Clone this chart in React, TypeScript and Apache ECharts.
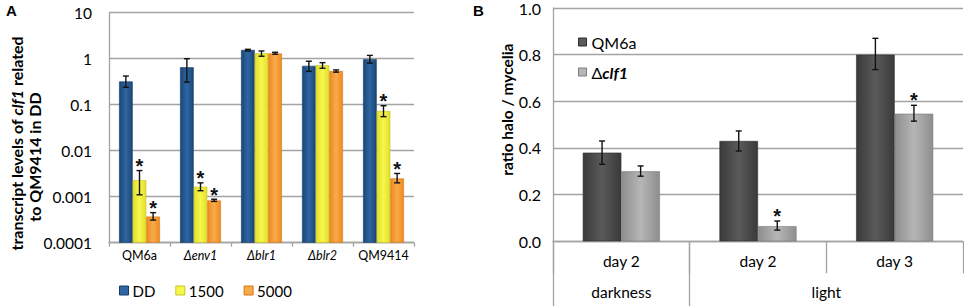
import React, { useEffect, useRef } from 'react';
import * as echarts from 'echarts';

// ---------- Panel A data ----------
const categoriesA = ['QM6a', 'Δenv1', 'Δblr1', 'Δblr2', 'QM9414'];
const seriesNamesA = ['DD', '1500', '5000'];
const valuesDD = [0.32, 0.65, 1.55, 0.7, 0.98];
const lowDD = [0.24, 0.31, 1.47, 0.53, 0.8];
const highDD = [0.42, 1.0, 1.6, 0.88, 1.18];
const values1500 = [0.0023, 0.00165, 1.31, 0.72, 0.073];
const low1500 = [0.0011, 0.00135, 1.13, 0.62, 0.055];
const high1500 = [0.0037, 0.002, 1.47, 0.82, 0.095];
const values5000 = [0.00037, 0.00083, 1.3, 0.54, 0.0025];
const low5000 = [0.00031, 0.00079, 1.25, 0.51, 0.002];
const high5000 = [0.00045, 0.00088, 1.38, 0.57, 0.0032];
const sig1500 = [1, 1, 0, 0, 1];
const sig5000 = [1, 1, 0, 0, 1];
const tickLabelsA = ['0.0001', '0.001', '0.01', '0.1', '1', '10'];

// ---------- Panel B data ----------
const categoriesB = ['day 2', 'day 2', 'day 3'];
const groupsB = ['darkness', 'light'];
const groupSpansB = [[0, 1], [1, 3]];
const seriesNamesB = ['QM6a', 'Δclf1'];
const valuesQM6a = [0.38, 0.43, 0.8];
const lowQM6a = [0.33, 0.387, 0.736];
const highQM6a = [0.43, 0.473, 0.87];
const valuesClf1 = [0.3, 0.065, 0.547];
const lowClf1 = [0.279, 0.048, 0.515];
const highClf1 = [0.323, 0.087, 0.583];
const sigClf1 = [0, 1, 1];

const FONT = 'Lato';
const GRID_COLOR = '#a3a3a3';
const GAP_A = 0.33;
const GAP_B = 0.436;

function hGrad(edge: string, mid: string) {
  return {
    type: 'linear', x: 0, y: 0, x2: 1, y2: 0,
    colorStops: [
      { offset: 0, color: edge },
      { offset: 0.5, color: mid },
      { offset: 1, color: edge },
    ],
  };
}

function errorSeries(
  name: string, xi: number, yi: number, lows: number[], highs: number[],
  sigs: number[] | null, pos: number, n: number, gap: number, starOffset: number
) {
  return {
    type: 'custom',
    name,
    xAxisIndex: xi,
    yAxisIndex: yi,
    z: 10,
    silent: true,
    clip: false,
    data: lows.map((lo, i) => [i, lo, highs[i], sigs ? sigs[i] : 0]),
    encode: { x: 0, y: [1, 2] },
    renderItem: (_params: any, api: any) => {
      const idx = api.value(0);
      const lo = api.value(1);
      const hi = api.value(2);
      const sig = api.value(3);
      const band = api.size([1, 0])[0];
      const barW = (band * (1 - gap)) / n;
      const top = api.coord([idx, hi]);
      const x = top[0] + (pos - (n - 1) / 2) * barW;
      const yHi = top[1];
      const yLo = api.coord([idx, lo])[1];
      const cap = 3;
      const st = { stroke: '#111', lineWidth: 1.4 };
      const children: any[] = [
        { type: 'line', shape: { x1: x, y1: yHi, x2: x, y2: yLo }, style: st },
        { type: 'line', shape: { x1: x - cap, y1: yHi, x2: x + cap, y2: yHi }, style: st },
        { type: 'line', shape: { x1: x - cap, y1: yLo, x2: x + cap, y2: yLo }, style: st },
      ];
      if (sig) {
        children.push({
          type: 'text',
          style: {
            text: '*', x, y: yHi - starOffset, align: 'center', verticalAlign: 'middle',
            fontSize: 20, fontWeight: 'bold', fontFamily: 'Liberation Sans', fill: '#111',
          },
        });
      }
      return { type: 'group', children };
    },
  };
}

function buildOption() {
  const barColorsA = [
    { edge: '#1a4677', mid: '#2f66a3', border: '#163c66' },
    { edge: '#e2df2c', mid: '#f6f64c', border: '#c9c522' },
    { edge: '#ee8a1e', mid: '#f9ab4a', border: '#d6771a' },
  ];
  const barColorsB = [
    { edge: '#3a3a3a', mid: '#5a5a5a', border: '#2e2e2e' },
    { edge: '#8e8e8e', mid: '#b6b6b6', border: '#7a7a7a' },
  ];
  const valsA = [valuesDD, values1500, values5000];
  const lowsA = [lowDD, low1500, low5000];
  const highsA = [highDD, high1500, high5000];
  const sigsA = [null, sig1500, sig5000];
  const valsB = [valuesQM6a, valuesClf1];
  const lowsB = [lowQM6a, lowClf1];
  const highsB = [highQM6a, highClf1];
  const sigsB = [null, sigClf1];

  const series: any[] = [];
  seriesNamesA.forEach((name, i) => {
    series.push({
      type: 'bar', name, xAxisIndex: 0, yAxisIndex: 0,
      data: valsA[i],
      barGap: '0%', barCategoryGap: '33%',
      itemStyle: { color: hGrad(barColorsA[i].edge, barColorsA[i].mid), borderColor: barColorsA[i].border, borderWidth: 0.6 },
    });
  });
  seriesNamesA.forEach((name, i) => {
    series.push(errorSeries(name + ' error', 0, 0, lowsA[i], highsA[i], sigsA[i], i, 3, GAP_A, 4.5));
  });
  seriesNamesB.forEach((name, i) => {
    series.push({
      type: 'bar', name, xAxisIndex: 1, yAxisIndex: 1,
      data: valsB[i],
      barGap: '0%', barCategoryGap: '43.6%',
      itemStyle: { color: hGrad(barColorsB[i].edge, barColorsB[i].mid), borderColor: barColorsB[i].border, borderWidth: 0.6 },
    });
  });
  seriesNamesB.forEach((name, i) => {
    series.push(errorSeries(name + ' error', 1, 1, lowsB[i], highsB[i], sigsB[i], i, 2, GAP_B, 5));
  });

  const axisLineStyle = { color: GRID_COLOR, width: 1.3 };
  const groupMids = groupSpansB.map((s) => (s[0] + s[1]) / 2);
  const titleRich = {
    b: { fontFamily: FONT, fontSize: 16, fontWeight: 'bold', fill: '#000' },
    bi: { fontFamily: FONT, fontSize: 16, fontWeight: 'bold', fontStyle: 'italic', fill: '#000' },
  };

  return {
    animation: false,
    color: [barColorsA[0].mid, barColorsA[1].mid, barColorsA[2].mid],
    textStyle: { fontFamily: FONT },
    graphic: [
      { type: 'text', left: 6, top: 3, style: { text: 'A', fontFamily: 'Liberation Sans', fontWeight: 'bold', fontSize: 15, fill: '#000' } },
      { type: 'text', left: 473, top: 3, style: { text: 'B', fontFamily: 'Liberation Sans', fontWeight: 'bold', fontSize: 15, fill: '#000' } },
      {
        type: 'text', x: 16, y: 143.5, rotation: Math.PI / 2,
        style: {
          text: '{b|transcript levels of }{bi|clf1}{b| related}', align: 'center', verticalAlign: 'middle',
          fontFamily: FONT, fontSize: 16, fontWeight: 'bold', fill: '#000', rich: titleRich,
        },
      },
      {
        type: 'text', x: 34.5, y: 157, rotation: Math.PI / 2,
        style: {
          text: 'to QM9414 in DD', align: 'center', verticalAlign: 'middle',
          fontFamily: FONT, fontSize: 16, fontWeight: 'bold', fill: '#000',
        },
      },
    ],
    grid: [
      { left: 109, right: 550, top: 12.7, bottom: 63.3 },
      { left: 553, right: 1, top: 7.3, bottom: 64.7 },
    ],
    legend: [
      {
        data: seriesNamesA.map((n, i) => ({ name: n, itemStyle: { color: barColorsA[i].mid, borderColor: barColorsA[i].border, borderWidth: 1 } })),
        left: 114, top: 278, orient: 'horizontal', itemWidth: 9, itemHeight: 9, itemGap: 20,
        icon: 'rect',
        textStyle: { fontFamily: FONT, fontSize: 15, color: '#000', padding: [0, 0, 0, -1] },
      },
      {
        data: seriesNamesB.map((n, i) => ({ name: n, itemStyle: { color: barColorsB[i].mid, borderColor: barColorsB[i].border, borderWidth: 1 } })),
        left: 573, top: 29, orient: 'vertical', itemWidth: 8, itemHeight: 8, itemGap: 14,
        icon: 'rect',
        formatter: (n: string) => (n.startsWith('Δ') ? `{n|Δ}{i|${n.slice(1)}}` : `{n|${n}}`),
        textStyle: {
          fontFamily: FONT, fontSize: 16, color: '#000',
          rich: {
            n: { fontFamily: FONT, fontSize: 16, color: '#000' },
            i: { fontFamily: FONT, fontSize: 16, color: '#000', fontStyle: 'italic', fontWeight: 'bold' },
          },
        },
      },
    ],
    xAxis: [
      {
        type: 'category', gridIndex: 0, data: categoriesA,
        axisLine: { lineStyle: axisLineStyle },
        axisTick: { show: true, length: 4, interval: 0, lineStyle: axisLineStyle },
        axisLabel: {
          interval: 0, margin: 6, fontFamily: FONT, fontSize: 12.5, color: '#000',
          formatter: (v: string) => (v.startsWith('Δ') ? `{i|${v}}` : v),
          rich: { i: { fontFamily: FONT, fontSize: 12.5, fontStyle: 'italic', color: '#000' } },
        },
      },
      {
        type: 'category', gridIndex: 1, data: categoriesB,
        axisLine: { lineStyle: axisLineStyle },
        axisTick: { show: true, length: 32, interval: 0, lineStyle: axisLineStyle },
        axisLabel: { interval: 0, margin: 12, fontFamily: FONT, fontSize: 15.5, color: '#000' },
      },
      {
        type: 'value', gridIndex: 1, min: 0, max: groupSpansB[groupSpansB.length - 1][1], position: 'bottom',
        axisLine: { show: false },
        splitLine: { show: false },
        axisTick: { show: true, customValues: groupSpansB.map((s) => s[0]), length: 65, lineStyle: axisLineStyle },
        axisLabel: {
          customValues: groupMids, margin: 43, fontFamily: FONT, fontSize: 15.5, color: '#000',
          formatter: (v: number) => {
            const k = groupMids.findIndex((m) => Math.abs(m - v) < 1e-6);
            return k >= 0 ? groupsB[k] : '';
          },
        },
      },
    ],
    yAxis: [
      {
        type: 'log', logBase: 10, gridIndex: 0, min: 0.0001, max: 10, startValue: 0.0001,
        axisLine: { show: true, lineStyle: axisLineStyle },
        axisTick: { show: false },
        splitLine: { show: true, lineStyle: { color: GRID_COLOR, width: 1.3 } },
        axisLabel: {
          margin: 17, fontFamily: FONT, fontSize: 15.5, color: '#000',
          formatter: (v: number) => tickLabelsA[Math.round(Math.log10(v)) + 4] ?? '',
        },
      },
      {
        type: 'value', gridIndex: 1, min: 0, max: 1, interval: 0.2,
        axisLine: { show: true, lineStyle: axisLineStyle },
        axisTick: { show: false },
        splitLine: { show: true, lineStyle: { color: GRID_COLOR, width: 1.3 } },
        axisLabel: {
          margin: 12, fontFamily: FONT, fontSize: 16, color: '#000',
          formatter: (v: number) => v.toFixed(1),
        },
        name: 'ratio halo / mycelia',
        nameLocation: 'middle', nameGap: 38, nameRotate: 90,
        nameTextStyle: { fontFamily: FONT, fontSize: 15.5, fontWeight: 'bold', color: '#000', padding: [0, 0, 0, 30] },
      },
    ],
    series,
  };
}

export default function App() {
  const ref = useRef<HTMLDivElement>(null);
  useEffect(() => {
    document.body.style.margin = '0';
    const chart = echarts.init(ref.current as HTMLDivElement, null, { renderer: 'svg' });
    chart.setOption(buildOption() as any);
    return () => chart.dispose();
  }, []);
  return <div ref={ref} style={{ width: 964, height: 306 }} />;
}
